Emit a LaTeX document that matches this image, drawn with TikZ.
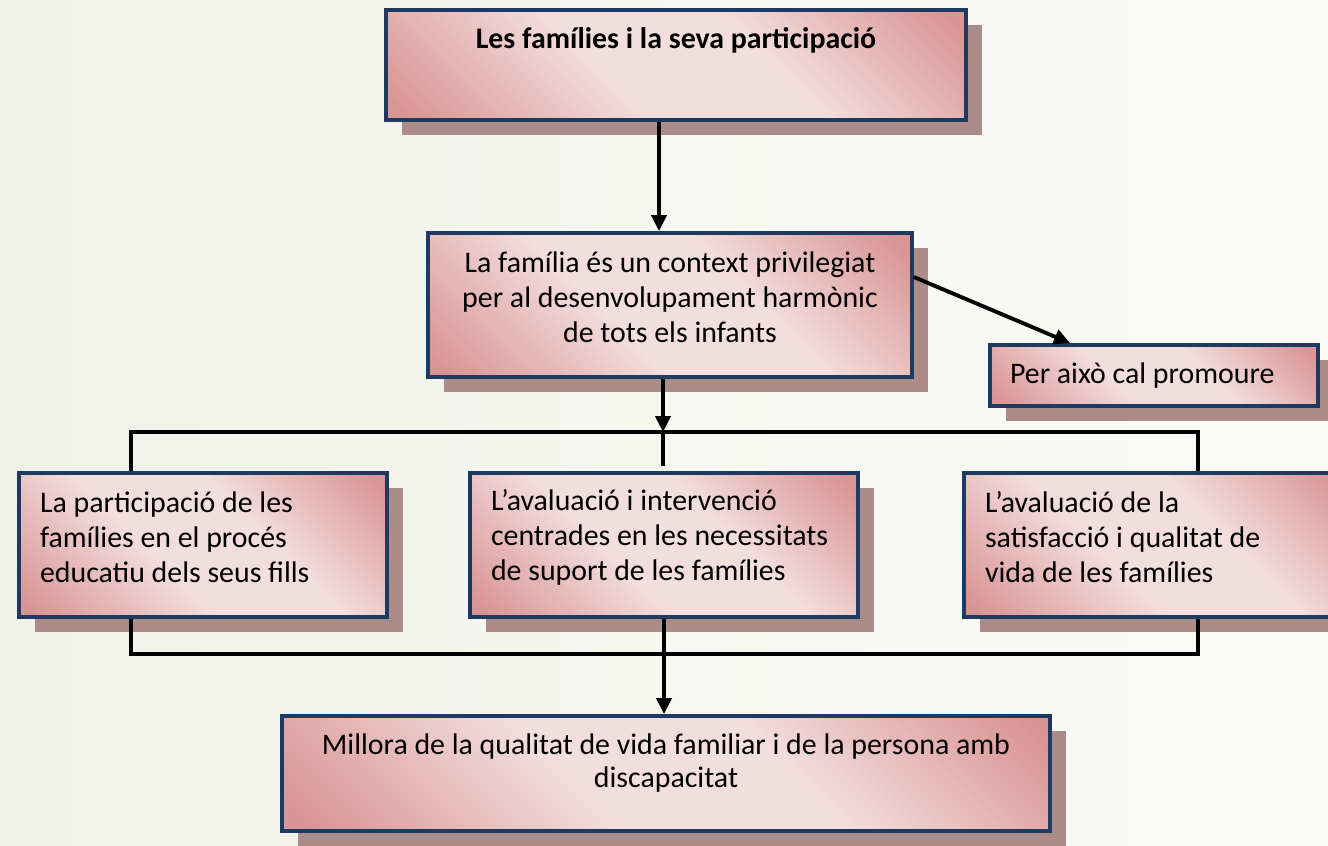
\documentclass[tikz,border=0pt]{standalone}
\usepackage{fontspec}
\setmainfont{Carlito}
\usetikzlibrary{arrows.meta,shadows}

\definecolor{boxdark}{HTML}{D99594}
\definecolor{boxlight}{HTML}{F3DEDE}
\definecolor{boxborder}{HTML}{1F3A60}
\definecolor{boxshadow}{HTML}{AC8C89}
\definecolor{bgleft}{HTML}{F1F1EB}
\definecolor{bgright}{HTML}{FBFBF8}

\pgfdeclarehorizontalshading{boxshade}{100bp}{color(0bp)=(boxdark); color(17bp)=(boxdark); color(42bp)=(boxlight); color(60bp)=(boxlight); color(83bp)=(boxdark); color(100bp)=(boxdark)}

\begin{document}
\begin{tikzpicture}[x=0.02cm, y=-0.02cm,
    box/.style={draw=boxborder, line width=2.2pt, shading=boxshade, shading angle=45,
      inner sep=0pt, font=\fontsize{17}{19.9}\selectfont,
      drop shadow={shadow xshift=0.32cm, shadow yshift=-0.3cm, fill=boxshadow, opacity=1}},
    link/.style={line width=2.2pt},
    arrow/.style={link, -{Triangle[width=0.3cm,length=0.32cm]}}]

  \useasboundingbox (0,0) rectangle (1328,845);
  \fill[left color=bgleft, right color=bgright] (0,0) rectangle (1328,845);

  % boxes
  \node[box, minimum width=11.6cm, text height=0.76cm, text depth=1.44cm, font=\fontsize{17}{19.9}\selectfont\bfseries]
    (top) at (676,65) {Les famílies i la seva participació};
  \node[box, text width=9.2cm, minimum width=9.68cm, minimum height=2.88cm, align=flush center]
    (fam) at (670,305) {La família és un context privilegiat\\per al desenvolupament harmònic\\de tots els infants\par\kern0.32cm};
  \node[box, text width=5.76cm, minimum width=6.56cm, minimum height=1.22cm, align=flush left]
    (promo) at (1154,375.5) {Per això cal promoure};
  \node[box, text width=6.52cm, minimum width=7.36cm, minimum height=2.88cm, align=flush left]
    (partA) at (203,545) {La participació de les\\famílies en el procés\\educatiu dels seus fills\par\kern0.32cm};
  \node[box, text width=6.92cm, minimum width=7.76cm, minimum height=2.88cm, align=flush left]
    (partB) at (664,545) {L’avaluació i intervenció\\centrades en les necessitats\\de suport de les famílies\par\kern0.32cm};
  \node[box, text width=6.88cm, minimum width=7.72cm, minimum height=2.88cm, align=flush left]
    (partC) at (1157,545) {L’avaluació de la\\satisfacció i qualitat de\\vida de les famílies\par\kern0.32cm};
  \node[box, text width=14.8cm, minimum width=15.36cm, minimum height=2.3cm, align=flush center, font=\fontsize{17}{18.8}\selectfont]
    (millora) at (666,773.5) {Millora de la qualitat de vida familiar i de la persona amb\\discapacitat\par\kern0.4cm};

  % junctions
  \coordinate (split) at (663,432);
  \coordinate (splitL) at (131,432);
  \coordinate (splitR) at (1198,432);
  \coordinate (joinL) at (131,654);
  \coordinate (joinR) at (1198,654);

  % connectors
  \draw[arrow] ([xshift=-0.34cm]top.south) -- ([xshift=-0.34cm]top.south |- fam.north);
  \draw[arrow] ([yshift=0.56cm]fam.east) -- ([xshift=-1.68cm]promo.north);
  \draw[arrow] (fam.south -| split) -- (split);
  \draw[link] (partA.north -| splitL) -- (splitL) -- (splitR) -- (partC.north -| splitR);
  \draw[link] (split) -- ([yshift=0.1cm]partB.north -| split);
  \draw[link] (partA.south -| joinL) -- (joinL) -- (joinR) -- (partC.south -| joinR);
  \draw[arrow] (partB.south) -- (partB.south |- millora.north);
\end{tikzpicture}
\end{document}
